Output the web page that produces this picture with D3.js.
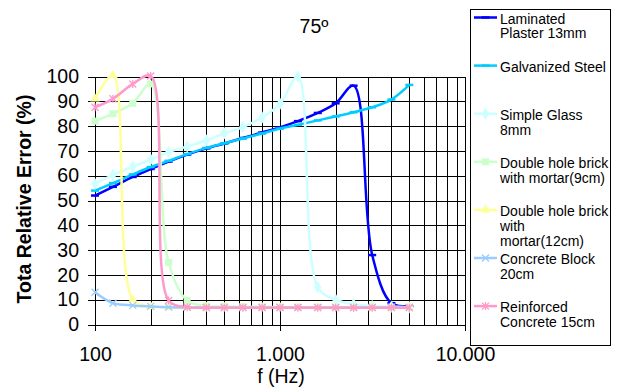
<!DOCTYPE html>
<html>
  <head>
    <meta charset="utf-8" />
    <title> 75º relative error </title>
    <script src="https://d3js.org/d3.v7.min.js"></script>
    <style>
      body {
        margin: 0;
        background-color: white;
      }
      text {
        font-family: "Liberation Sans", Arial, sans-serif;
        fill: black;
      }
    </style>
  </head>

  <body>
    <svg id="viz"></svg>

    <script>

    // 1/3 octave bands (Hz)
    var frequencies = [100, 125, 160, 200, 250, 315, 400, 500, 630, 800, 1000, 1250, 1600, 2000, 2500, 3150, 4000, 5000];

    // Total relative error (%)
    var laminatedPlaster = [52, 55.5, 59.5, 62.7, 65.7, 68.5, 71, 73, 75.2, 77.4, 79.5, 82, 85.3, 89.2, 96.3, 28, 8.6, 7.4];
    var galvanizedSteel  = [54, 57, 60.5, 63.5, 66, 68.7, 71.2, 73.1, 75, 77, 79, 80.5, 82.3, 83.9, 85.6, 87.6, 90.7, 96.6];
    var simpleGlass      = [56.7, 60.3, 63.7, 66.5, 69.5, 71.8, 74.2, 77.1, 79.6, 83.5, 89, 100, 15, 10, 8.2, 7.5, 7.2, 7];
    var brick9           = [82, 85, 89.2, 97, 25, 9.7, 7.5, 7.3, 7.2, 7.1, 7, 7, 7, 7, 7, 7, 7, 7];
    var brick12          = [91, 100.5, 10, 7.3, 7, 6.9, 6.9, 6.9, 6.9, 6.9, 6.9, 6.9, 6.9, 6.9, 6.9, 6.9, 6.9, 6.9];
    var concreteBlock    = [13, 8.6, 7.7, 7.3, 7, 6.9, 6.9, 6.9, 6.9, 6.9, 6.9, 6.9, 6.9, 6.9, 6.9, 6.9, 6.9, 6.9];
    var reinforced       = [87.6, 91, 97, 100.2, 9.7, 7, 6.8, 6.8, 6.8, 6.8, 6.8, 6.8, 6.8, 6.8, 6.8, 6.8, 6.8, 6.8];

    var seriesNames = [
      ["Laminated", "Plaster 13mm"],
      ["Galvanized Steel"],
      ["Simple Glass", "8mm"],
      ["Double hole brick", "with mortar(9cm)"],
      ["Double hole brick", "with", "mortar(12cm)"],
      ["Concrete Block", "20cm"],
      ["Reinforced", "Concrete 15cm"]
    ];

    var yTicks = [0, 10, 20, 30, 40, 50, 60, 70, 80, 90, 100];
    var xTicks = [100, 1000, 10000];

    // styles kept apart from the data
    var colors  = ["#0000ff", "#00ccff", "#ccffff", "#ccffcc", "#ffff99", "#99ccff", "#ff99cc"];
    var markers = ["dash", "dash", "diamond", "square", "triangle", "cross", "star"];

    var allSeries = [laminatedPlaster, galvanizedSteel, simpleGlass, brick9, brick12, concreteBlock, reinforced];

    var width = 617,
        height = 388;

    var svg = d3.select("#viz")
      .attr("width", width)
      .attr("height", height);

    var x = d3.scaleLog().domain([100, 10000]).range([95, 465]);
    var y = d3.scaleLinear().domain([0, 100]).range([324.5, 76.5]);

    // grid lines (every 10% and every log minor step)
    var gridX = [];
    [100, 1000].forEach(function(dec) {
      for (var k = 2; k <= 10; k++) gridX.push(dec * k);
    });

    svg.append("g")
      .attr("transform", "translate(0,76.5)")
      .call(d3.axisBottom(x).tickValues(gridX).tickSize(248).tickFormat(""))
      .call(function(g) { g.select(".domain").remove(); })
      .selectAll("line")
        .attr("stroke", "#111")
        .attr("shape-rendering", "crispEdges");

    svg.append("g")
      .attr("transform", "translate(95,0)")
      .call(d3.axisRight(y).tickValues(yTicks.slice(1)).tickSize(370).tickFormat(""))
      .call(function(g) { g.select(".domain").remove(); })
      .selectAll("line")
        .attr("stroke", "#111")
        .attr("shape-rendering", "crispEdges");

    // y axis with labels
    var yAxis = svg.append("g")
      .attr("transform", "translate(95,0)")
      .call(d3.axisLeft(y).tickValues(yTicks).tickSize(7).tickPadding(9).tickSizeOuter(0));
    yAxis.selectAll("text")
      .style("font-size", "19.5px");

    // x axis, thousands written with a dot
    var locale = d3.formatLocale({ decimal: ",", thousands: ".", grouping: [3], currency: ["", ""] });
    var xAxis = svg.append("g")
      .attr("transform", "translate(0,324.5)")
      .call(d3.axisBottom(x).tickValues(xTicks).tickSize(6).tickPadding(17).tickSizeOuter(0).tickFormat(locale.format(",")));
    xAxis.selectAll("text")
      .style("font-size", "19.5px");

    svg.selectAll(".domain, .tick line")
      .attr("stroke", "black")
      .attr("shape-rendering", "crispEdges");

    // marker shapes
    function drawMarker(g, type, color, cx, cy) {
      if (type == "dash") {
        g.append("line")
          .attr("x1", cx - 4).attr("x2", cx + 4)
          .attr("y1", cy).attr("y2", cy)
          .attr("stroke", color).attr("stroke-width", 2.5);
      } else if (type == "diamond") {
        g.append("path")
          .attr("d", d3.symbol(d3.symbolDiamond, 45)())
          .attr("transform", "translate(" + cx + "," + cy + ")")
          .attr("fill", color);
      } else if (type == "square") {
        g.append("rect")
          .attr("x", cx - 3.5).attr("y", cy - 3.5)
          .attr("width", 7).attr("height", 7)
          .attr("fill", color);
      } else if (type == "triangle") {
        g.append("path")
          .attr("d", d3.symbol(d3.symbolTriangle, 40)())
          .attr("transform", "translate(" + cx + "," + cy + ")")
          .attr("fill", color);
      } else {
        var r = 3.5;
        g.append("path")
          .attr("d", "M" + (cx - r) + "," + (cy - r) + "L" + (cx + r) + "," + (cy + r) +
                     "M" + (cx - r) + "," + (cy + r) + "L" + (cx + r) + "," + (cy - r) +
                     (type == "star" ? "M" + cx + "," + (cy - r - 0.5) + "L" + cx + "," + (cy + r + 0.5) : ""))
          .attr("stroke", color).attr("stroke-width", 1.3).attr("fill", "none");
      }
    }

    // smoothed lines, like the spreadsheet did
    var line = d3.line()
      .x(function(d, i) { return x(frequencies[i]); })
      .y(function(d) { return y(d); })
      .curve(d3.curveCatmullRom.alpha(0.5));

    allSeries.forEach(function(values, s) {
      var g = svg.append("g");
      g.append("path")
        .attr("d", line(values))
        .attr("fill", "none")
        .attr("stroke", colors[s])
        .attr("stroke-width", 2.5);
      values.forEach(function(v, i) {
        drawMarker(g, markers[s], colors[s], x(frequencies[i]), y(v));
      });
    });

    // titles
    svg.append("text")
      .attr("x", 314).attr("y", 33)
      .attr("text-anchor", "middle")
      .style("font-size", "19.5px")
      .text("75º");

    svg.append("text")
      .attr("x", 281).attr("y", 383)
      .attr("text-anchor", "middle")
      .style("font-size", "19.5px")
      .text("f (Hz)");

    svg.append("text")
      .attr("transform", "translate(31,199) rotate(-90)")
      .attr("text-anchor", "middle")
      .style("font-size", "19.5px")
      .style("font-weight", "bold")
      .text("Tota Relative Error (%)");

    // legend box
    var legend = svg.append("g");
    legend.append("rect")
      .attr("x", 470.5).attr("y", 9.5)
      .attr("width", 140).attr("height", 336)
      .attr("fill", "white")
      .attr("stroke", "black");

    seriesNames.forEach(function(lines, s) {
      var ly = 17.5 + s * 48.1;
      legend.append("line")
        .attr("x1", 474).attr("x2", 497)
        .attr("y1", ly).attr("y2", ly)
        .attr("stroke", colors[s]).attr("stroke-width", 2.5);
      drawMarker(legend, markers[s], colors[s], 485.5, ly);
      var t = legend.append("text")
        .attr("x", 500).attr("y", ly + 6)
        .style("font-size", "14px");
      lines.forEach(function(txt, k) {
        t.append("tspan")
          .attr("x", 500)
          .attr("dy", k == 0 ? 0 : 14.8)
          .text(txt);
      });
    });

    </script>
  </body>
</html>
